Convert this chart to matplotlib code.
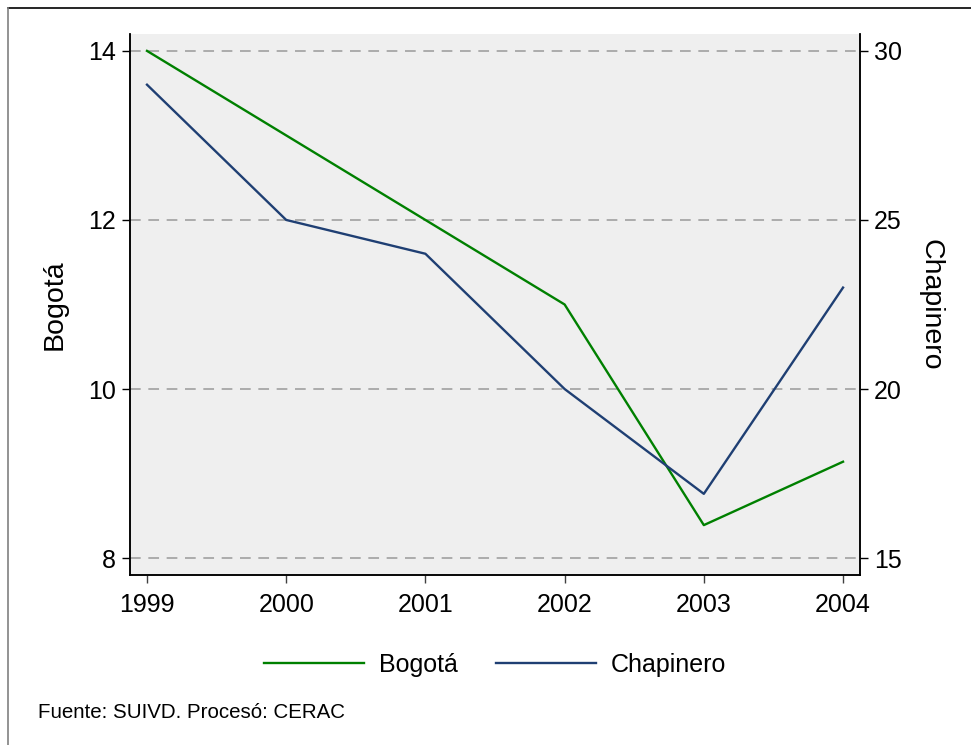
import matplotlib.pyplot as plt
from matplotlib.lines import Line2D

plt.rcParams['font.family'] = ['Liberation Sans', 'DejaVu Sans']

years = [1999, 2000, 2001, 2002, 2003, 2004]
bogota = [14.0, 13.0, 12.0, 11.0, 8.39, 9.14]
chapinero = [29.0, 25.0, 24.0, 20.0, 16.9, 23.0]
left_ticks = [8, 10, 12, 14]
right_ticks = [15, 20, 25, 30]

green = '#008000'
navy = '#1f3f73'

fig = plt.figure(figsize=(9.71, 7.45), dpi=100)
ax = fig.add_axes([0.1339, 0.2282, 0.7518, 0.7262])
ax.set_facecolor('#efefef')
ax2 = ax.twinx()

ax.plot(years, bogota, color=green, lw=1.7, label='Bogotá')
ax2.plot(years, chapinero, color=navy, lw=1.7, label='Chapinero')

ax.set_xlim(1998.878, 2004.122)
ax.set_ylim(7.8, 14.2)
ax2.set_ylim(14.5, 30.5)

ax.set_xticks(years)
ax.set_yticks(left_ticks)
ax2.set_yticks(right_ticks)
for y in left_ticks:
    ax.axhline(y, color='#999999', lw=1.1, ls=(0, (7, 5)), zorder=0.5)

for a in (ax, ax2):
    a.tick_params(labelsize=18, length=6, width=1, direction='out', pad=4)
    for s in a.spines.values():
        s.set_linewidth(1.1)
    a.spines['top'].set_visible(False)
ax.tick_params(axis='x', color='#404040', pad=7)

ax.set_ylabel('Bogotá', fontsize=20.5, labelpad=15)
ax2.set_ylabel('Chapinero', fontsize=20.5, rotation=270, labelpad=30)

handles = [Line2D([], [], color=green, lw=1.7), Line2D([], [], color=navy, lw=1.7)]
fig.legend(handles, ['Bogotá', 'Chapinero'], loc='center', bbox_to_anchor=(0.51, 0.108),
           ncol=2, frameon=False, fontsize=18, handlelength=4.0, handletextpad=0.6,
           columnspacing=1.5)

fig.text(0.039, 0.044, 'Fuente: SUIVD. Procesó: CERAC', fontsize=14.8, va='center')

fig.add_artist(Line2D([0.0082, 1.0], [0.9893, 0.9893], color='black', lw=1.2))
fig.add_artist(Line2D([0.0082, 0.0082], [0.0, 0.9893], color='#808080', lw=1.2))

fig.savefig('out.png', dpi=100)
